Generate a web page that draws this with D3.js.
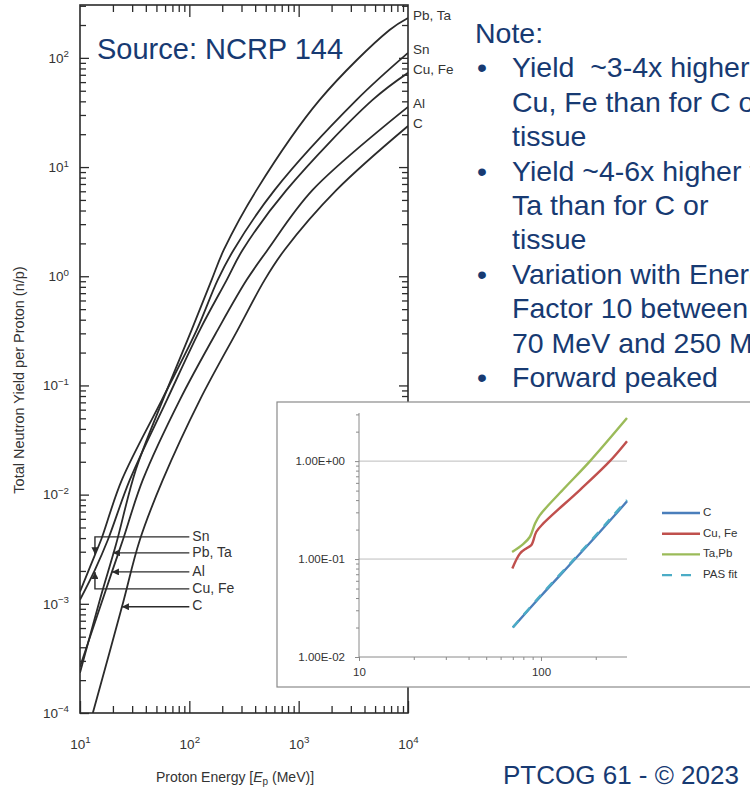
<!DOCTYPE html>
<html><head><meta charset="utf-8">
<script src="https://cdn.jsdelivr.net/npm/d3@7"></script>
<style>
html,body{margin:0;padding:0;background:#fff;overflow:hidden}
svg{display:block}
</style></head><body>
<svg id="c" width="750" height="788"></svg>
<script>
// ---------- Main chart (NCRP 144): total neutron yield per proton ----------
const energyPb = [10, 15.2, 21.3, 32.4, 57.3, 105, 160, 207, 413, 1556, 6776, 10000];
const yieldPb  = [2.33e-4, 1.09e-3, 3.47e-3, 0.0169, 0.0738, 0.323, 0.927, 1.75, 6.18, 41.2, 180, 232];
const energySn = [10, 13.7, 15.6, 24.2, 56.1, 117, 182, 255, 604, 3388, 10000];
const yieldSn  = [1.29e-3, 2.81e-3, 3.86e-3, 0.0137, 0.0738, 0.323, 0.927, 1.75, 6.18, 41.2, 111];
const energyCu = [10, 13.7, 18.0, 28.6, 62.4, 125, 220, 308, 776, 4742, 10000];
const yieldCu  = [1.09e-3, 2.05e-3, 3.86e-3, 0.0137, 0.0738, 0.323, 0.927, 1.75, 6.18, 41.2, 73];
const energyAl = [10, 19.6, 24.7, 37.6, 81.9, 182, 335, 521, 1343, 10000];
const yieldAl  = [2.65e-4, 1.96e-3, 3.86e-3, 0.0137, 0.0738, 0.323, 0.927, 1.75, 6.18, 35.6];
const energyC  = [13.1, 24.2, 35.3, 57.3, 125, 277, 489, 745, 2223, 10000];
const yieldC   = [1e-4, 9.39e-4, 3.86e-3, 0.0137, 0.0738, 0.323, 0.927, 1.75, 6.18, 23.8];
const mainNames = ["Pb, Ta", "Sn", "Cu, Fe", "Al", "C"];

const mainYTicks = [1e-4, 1e-3, 1e-2, 1e-1, 1, 10, 100];
const mainXTicks = [10, 100, 1000, 10000];

// lower-left callouts
const annLabels     = ["Sn", "Pb, Ta", "Al", "Cu, Fe", "C"];
const annRowYield   = [4.1e-3, 2.93e-3, 1.96e-3, 1.37e-3, 9.4e-4];
const annTipEnergy  = [13.7, 20.0, 19.6, 13.7, 24.2];
const annTipYield   = [2.85e-3, 2.93e-3, 1.96e-3, 1.96e-3, 9.4e-4];
const annKind       = ["bracket", "arrow", "arrow", "bracket", "arrow"];

// ---------- Inset chart ----------
const insetEnergyC   = [70, 100, 150, 200, 250, 297];
const insetYieldC    = [0.020, 0.042, 0.095, 0.17, 0.27, 0.39];
const insetEnergyPAS = [70, 100, 150, 200, 250, 297];
const insetYieldPAS  = [0.020, 0.043, 0.097, 0.175, 0.28, 0.40];
const insetEnergyCu  = [69.6, 76.7, 83.4, 88.6, 94.3, 103, 164, 239, 297];
const insetYieldCu   = [0.080, 0.114, 0.129, 0.139, 0.190, 0.231, 0.51, 1.0, 1.6];
const insetEnergyTa  = [69.4, 79.8, 87.0, 92.8, 98.6, 132, 186, 297];
const insetYieldTa   = [0.118, 0.142, 0.169, 0.231, 0.281, 0.51, 1.0, 2.75];
const insetNames = ["C", "Cu, Fe", "Ta,Pb", "PAS fit"];
const insetYTicks = [0.01, 0.1, 1];
const insetXTicks = [10, 100];

// ---------- Slide text ----------
const noteTitle = "Note:";
const noteLines = [
  [true,  "Yield  ~3-4x higher for"],
  [false, "Cu, Fe than for C or"],
  [false, "tissue"],
  [true,  "Yield ~4-6x higher for Pb,"],
  [false, "Ta than for C or"],
  [false, "tissue"],
  [true,  "Variation with Energy:"],
  [false, "Factor 10 between"],
  [false, "70 MeV and 250 MeV"],
  [true,  "Forward peaked"]
];
const sourceText = "Source: NCRP 144";
const footerText = "PTCOG 61 - \u00A9 2023";

// =====================================================================
const svg = d3.select("#c");
const ink = "#2b2b2b";
const navy = "#173a72";
const sans = "'Liberation Sans', Arial, sans-serif";

svg.append("rect").attr("width", 750).attr("height", 788).attr("fill", "#fff");

const x = d3.scaleLog().domain([10, 10000]).range([80, 408]);
const y = d3.scaleLog().domain([1e-4, 305]).range([713, 5]);

function minorTicks(scale, lo, hi) {
  const out = [];
  for (let p = Math.floor(Math.log10(lo)); p <= Math.ceil(Math.log10(hi)); p++) {
    for (let m = 2; m <= 9; m++) {
      const v = m * Math.pow(10, p);
      if (v > lo && v < hi) out.push(v);
    }
  }
  return out;
}
const [yLo, yHi] = y.domain();
const [xLo, xHi] = x.domain();
const yMinor = minorTicks(y, yLo, yHi);
const xMinor = minorTicks(x, xLo, xHi);

function supLabels(g) {
  g.selectAll(".tick text").each(function(d) {
    const e = Math.round(Math.log10(d));
    const t = d3.select(this);
    t.text("10");
    t.append("tspan").attr("dy", "-0.55em").attr("font-size", "0.72em")
      .text(e < 0 ? "\u2212" + (-e) : String(e));
  });
}
function styleAxis(g) {
  g.select(".domain").remove();
  g.selectAll(".tick line").attr("stroke", ink).attr("stroke-width", 1.3);
  g.selectAll(".tick text").attr("fill", "#333").attr("font-family", sans).attr("font-size", 13.5);
}

// axes: left
svg.append("g").attr("transform", "translate(80,0)")
  .call(d3.axisLeft(y).tickValues(mainYTicks).tickSize(-9).tickPadding(11))
  .call(styleAxis).call(supLabels);
svg.append("g").attr("transform", "translate(80,0)")
  .call(d3.axisLeft(y).tickValues(yMinor).tickSize(-6).tickFormat(""))
  .call(styleAxis);
// right
svg.append("g").attr("transform", "translate(408,0)")
  .call(d3.axisRight(y).tickValues(mainYTicks.filter(v => v > yLo)).tickSize(-9).tickFormat(""))
  .call(styleAxis);
svg.append("g").attr("transform", "translate(408,0)")
  .call(d3.axisRight(y).tickValues(yMinor).tickSize(-6).tickFormat(""))
  .call(styleAxis);
// bottom
svg.append("g").attr("transform", "translate(0,713)")
  .call(d3.axisBottom(x).tickValues(mainXTicks).tickSize(-12).tickPadding(26))
  .call(styleAxis).call(supLabels);
svg.append("g").attr("transform", "translate(0,713)")
  .call(d3.axisBottom(x).tickValues(xMinor).tickSize(-7).tickFormat(""))
  .call(styleAxis);
// top
svg.append("g").attr("transform", "translate(0,5)")
  .call(d3.axisTop(x).tickValues(mainXTicks.slice(1, 3)).tickSize(-12).tickFormat(""))
  .call(styleAxis);
svg.append("g").attr("transform", "translate(0,5)")
  .call(d3.axisTop(x).tickValues(xMinor).tickSize(-7).tickFormat(""))
  .call(styleAxis);

// frame
svg.append("rect").attr("x", 80).attr("y", 5).attr("width", 328).attr("height", 708)
  .attr("fill", "none").attr("stroke", ink).attr("stroke-width", 1.6);

// clip
svg.append("clipPath").attr("id", "mainclip").append("rect")
  .attr("x", 80).attr("y", 5).attr("width", 328).attr("height", 708);

const mainSeries = [
  [energyPb, yieldPb], [energySn, yieldSn], [energyCu, yieldCu], [energyAl, yieldAl], [energyC, yieldC]
];
const line = d3.line().x(d => x(d[0])).y(d => y(d[1])).curve(d3.curveCatmullRom.alpha(0.5));
const gCurves = svg.append("g").attr("clip-path", "url(#mainclip)");
mainSeries.forEach(([es, vs]) => {
  gCurves.append("path").attr("d", line(es.map((e, i) => [e, vs[i]])))
    .attr("fill", "none").attr("stroke", ink).attr("stroke-width", 1.8);
});

// right-hand curve labels
mainSeries.forEach(([es, vs], i) => {
  svg.append("text").attr("x", 413).attr("y", y(vs[vs.length - 1]) - 2)
    .attr("dominant-baseline", "middle").attr("font-family", sans).attr("font-size", 13.5)
    .attr("fill", "#333").text(mainNames[i]);
});

// arrow marker
svg.append("defs").append("marker").attr("id", "ah")
  .attr("viewBox", "0 0 10 10").attr("refX", 10).attr("refY", 5)
  .attr("markerWidth", 8).attr("markerHeight", 7).attr("markerUnits", "userSpaceOnUse")
  .attr("orient", "auto")
  .append("path").attr("d", "M0,0L10,5L0,10Z").attr("fill", ink);

// callouts
const lineEndE = 100;
annLabels.forEach((lab, i) => {
  const ry = y(annRowYield[i]);
  const tx = x(annTipEnergy[i]);
  const ty = y(annTipYield[i]);
  let d;
  if (annKind[i] === "bracket") d = `M${x(lineEndE)},${ry}H${tx}V${ty}`;
  else d = `M${x(lineEndE)},${ry}H${tx}`;
  svg.append("path").attr("d", d).attr("fill", "none").attr("stroke", ink)
    .attr("stroke-width", 1.4).attr("marker-end", "url(#ah)");
  svg.append("text").attr("x", x(lineEndE) + 3).attr("y", ry)
    .attr("dominant-baseline", "middle").attr("font-family", sans).attr("font-size", 14)
    .attr("fill", "#333").text(lab);
});

// axis titles
const xt = svg.append("text").attr("x", 235).attr("y", 782).attr("text-anchor", "middle")
  .attr("font-family", sans).attr("font-size", 14).attr("fill", "#333");
xt.append("tspan").text("Proton Energy [");
xt.append("tspan").attr("font-style", "italic").text("E");
xt.append("tspan").attr("font-size", 10).attr("dy", 3).text("p");
xt.append("tspan").attr("dy", -3).text(" (MeV)]");

svg.append("text").attr("transform", "translate(24,380) rotate(-90)").attr("text-anchor", "middle")
  .attr("font-family", sans).attr("font-size", 14.5).attr("fill", "#333")
  .text("Total Neutron Yield per Proton (n/p)");

// Source label
svg.append("text").attr("x", 97).attr("y", 59).attr("font-family", sans)
  .attr("font-size", 29).attr("fill", navy).text(sourceText);

// ---------------- Inset ----------------
const xi = d3.scaleLog().domain([10, 297]).range([359, 627]);
const yi = d3.scaleLog().domain([0.01, 3.1]).range([657, 413]);
const insetFont = "'Liberation Sans', Arial, sans-serif";

svg.append("rect").attr("x", 277).attr("y", 402).attr("width", 490).attr("height", 285)
  .attr("fill", "#fff").attr("stroke", "#8a8a8a").attr("stroke-width", 1.2);

// gridlines
svg.append("g").selectAll("line").data(insetYTicks.slice(1)).join("line")
  .attr("x1", xi(10)).attr("x2", xi.range()[1]).attr("y1", d => yi(d)).attr("y2", d => yi(d))
  .attr("stroke", "#bdbdbd").attr("stroke-width", 1);

function fmtE(v) {
  const e = Math.round(Math.log10(v));
  const m = v / Math.pow(10, e);
  const ee = Math.abs(e) < 10 ? "0" + Math.abs(e) : String(Math.abs(e));
  return m.toFixed(2) + "E" + (e < 0 ? "-" : "+") + ee;
}
function styleInsetAxis(g) {
  g.selectAll(".tick line").attr("stroke", "#8a8a8a");
  g.selectAll(".tick text").attr("fill", "#333").attr("font-family", insetFont).attr("font-size", 11.5);
}
const gyi = svg.append("g").attr("transform", "translate(359,0)")
  .call(d3.axisLeft(yi).tickValues(insetYTicks).tickSize(4).tickPadding(10).tickFormat(fmtE))
  .call(styleInsetAxis);
gyi.select(".domain").attr("stroke", "#8a8a8a").attr("d", `M0,${yi(0.01)}V${yi.range()[1]}`);
svg.append("g").attr("transform", "translate(359,0)")
  .call(d3.axisLeft(yi).tickValues(minorTicks(yi, 0.01, 3.1)).tickSize(3).tickFormat(""))
  .call(g => g.select(".domain").remove()).call(styleInsetAxis);

const gxi = svg.append("g").attr("transform", "translate(0,657)")
  .call(d3.axisBottom(xi).tickValues(insetXTicks).tickSize(4).tickPadding(7).tickFormat(d3.format("d")))
  .call(styleInsetAxis);
gxi.select(".domain").attr("stroke", "#8a8a8a").attr("d", `M${xi(10)},0H${xi.range()[1]}`);
svg.append("g").attr("transform", "translate(0,657)")
  .call(d3.axisBottom(xi).tickValues(minorTicks(xi, 10, 297)).tickSize(3).tickFormat(""))
  .call(g => g.select(".domain").remove()).call(styleInsetAxis);

const iline = d3.line().x(d => xi(d[0])).y(d => yi(d[1])).curve(d3.curveCatmullRom.alpha(0.5));
const insetColors = ["#4a7ebb", "#c0504d", "#9bbb59", "#4bacc6"];
const insetSeries = [
  [insetEnergyC, insetYieldC], [insetEnergyCu, insetYieldCu],
  [insetEnergyTa, insetYieldTa], [insetEnergyPAS, insetYieldPAS]
];
insetSeries.forEach(([es, vs], i) => {
  svg.append("path").attr("d", iline(es.map((e, k) => [e, vs[k]])))
    .attr("fill", "none").attr("stroke", insetColors[i]).attr("stroke-width", 2.4)
    .attr("stroke-dasharray", i === 3 ? "9,8" : null);
});

// legend
const legY0 = 513, legDy = 20.7;
insetNames.forEach((n, i) => {
  const ly = legY0 + i * legDy;
  svg.append("line").attr("x1", 662).attr("x2", 700).attr("y1", ly).attr("y2", ly)
    .attr("stroke", insetColors[i]).attr("stroke-width", 2.4)
    .attr("stroke-dasharray", i === 3 ? "10,9" : null);
  svg.append("text").attr("x", 703).attr("y", ly).attr("dominant-baseline", "middle")
    .attr("font-family", insetFont).attr("font-size", 11.5).attr("fill", "#333").text(n);
});

// ---------------- Slide notes ----------------
const noteX = 475, bulletX = 477, textX = 512, noteY0 = 43, noteDy = 34.4;
svg.append("text").attr("x", noteX).attr("y", noteY0).attr("font-family", sans)
  .attr("font-size", 28.5).attr("fill", navy).text(noteTitle);
noteLines.forEach(([b, t], i) => {
  const ly = noteY0 + (i + 1) * noteDy;
  if (b) svg.append("text").attr("x", bulletX).attr("y", ly).attr("font-family", sans)
    .attr("font-size", 28.5).attr("fill", navy).text("\u2022");
  svg.append("text").attr("x", textX).attr("y", ly).attr("font-family", sans)
    .attr("font-size", 28.5).attr("fill", navy).style("white-space", "pre").text(t);
});

svg.append("text").attr("x", 503).attr("y", 784).attr("font-family", sans)
  .attr("font-size", 26).attr("fill", navy).text(footerText);
</script>
</body></html>
